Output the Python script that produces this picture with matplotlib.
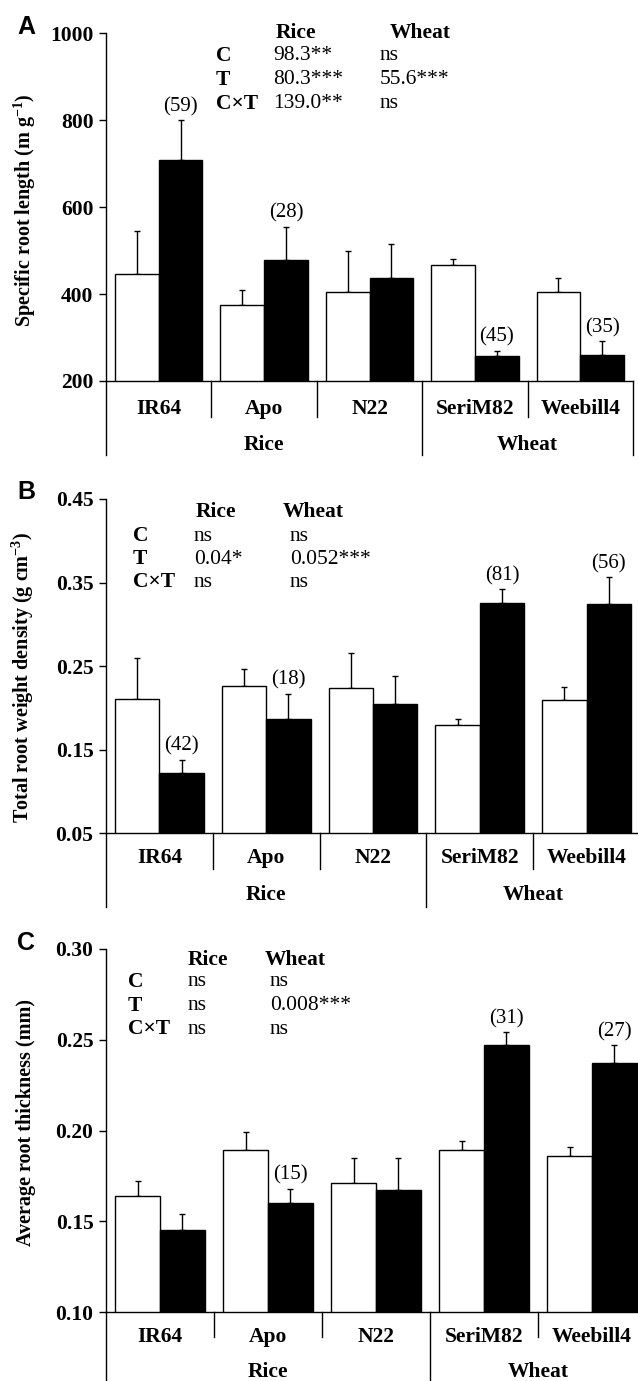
import numpy as np
import matplotlib
matplotlib.use('Agg')
import matplotlib.pyplot as plt
import matplotlib.transforms as mtransforms

plt.rcParams['font.family'] = ['Liberation Serif', 'DejaVu Serif']
plt.rcParams['mathtext.fontset'] = 'custom'
plt.rcParams['mathtext.rm'] = 'Liberation Serif:bold'
plt.rcParams['mathtext.bf'] = 'Liberation Serif:bold'

cultivars = ['IR64', 'Apo', 'N22', 'SeriM82', 'Weebill4']
groups = ['Rice', 'Wheat']

# A: specific root length
srl_ctrl = [445, 375, 405, 466, 405]
srl_ctrl_top = [545, 409, 500, 481, 436]
srl_trt = [709, 479, 436, 257, 260]
srl_trt_top = [799, 554, 515, 269, 291]
srl_n = ['(59)', '(28)', None, '(45)', '(35)']

# B: total root weight density
rwd_ctrl = [0.210, 0.226, 0.224, 0.179, 0.209]
rwd_ctrl_top = [0.259, 0.246, 0.266, 0.186, 0.225]
rwd_trt = [0.122, 0.186, 0.204, 0.325, 0.324]
rwd_trt_top = [0.138, 0.217, 0.238, 0.342, 0.356]
rwd_n = ['(42)', '(18)', None, '(81)', '(56)']

# C: average root thickness
art_ctrl = [0.164, 0.189, 0.171, 0.189, 0.186]
art_ctrl_top = [0.172, 0.199, 0.185, 0.194, 0.191]
art_trt = [0.145, 0.160, 0.167, 0.247, 0.237]
art_trt_top = [0.154, 0.168, 0.185, 0.254, 0.247]
art_n = [None, '(15)', None, '(31)', '(27)']

W, H = 638, 1381
fig = plt.figure(figsize=(W / 100, H / 100), dpi=100)

FS_TICK = 15.5
FS_CAT = 15.5
FS_TAB = 15.5
FS_N = 15


def px_axes(left, top, right, bottom):
    return [left / W, 1 - bottom / H, (right - left) / W, (bottom - top) / H]


def panel(rect, ctrl, ctrl_top, trt, trt_top, nlab, ylim, yticks, yfmt, ylabel,
          letter, letter_y, table, sep_minor, sep_group, cat_y, grp_y, ylab_x, ylab_y,
          right_sep=False):
    ax = fig.add_axes(px_axes(*rect))
    hpx = rect[3] - rect[1]
    x = np.arange(len(cultivars))
    bw = 0.415
    ctrl = np.array(ctrl); trt = np.array(trt)
    ax.bar(x - bw / 2, ctrl, bw, color='white', edgecolor='black', linewidth=1.0, zorder=2)
    ax.bar(x + bw / 2, trt, bw, color='black', edgecolor='black', linewidth=1.0, zorder=2)
    ax.errorbar(x - bw / 2, ctrl, yerr=[np.zeros(5), np.array(ctrl_top) - ctrl], fmt='none',
                ecolor='black', elinewidth=1.0, capsize=2.5, capthick=1.0, zorder=1)
    ax.errorbar(x + bw / 2, trt, yerr=[np.zeros(5), np.array(trt_top) - trt], fmt='none',
                ecolor='black', elinewidth=1.0, capsize=2.5, capthick=1.0, zorder=1)
    for i, t in enumerate(nlab):
        if t:
            ax.annotate(t, (x[i] + bw / 2, trt_top[i]), xytext=(0, 3), textcoords='offset points',
                        ha='center', va='bottom', fontsize=FS_N)
    ax.set_xlim(-0.5, 4.5)
    ax.set_ylim(*ylim)
    ax.set_yticks(yticks)
    ax.set_yticklabels([yfmt.format(v) for v in yticks], fontsize=FS_TICK, fontweight='bold')
    ax.tick_params(axis='y', direction='out', length=5, width=1.0, pad=4)
    ax.set_xticks([])
    for s in ['top', 'right']:
        ax.spines[s].set_visible(False)
    ax.spines['left'].set_linewidth(1.0)
    ax.spines['bottom'].set_linewidth(1.0)
    ax.spines['left'].set_zorder(3)
    ax.spines['bottom'].set_zorder(3)
    ax.set_ylabel(ylabel, fontsize=14.5, fontweight='bold')
    ax.yaxis.set_label_coords((ylab_x - rect[0]) / (rect[2] - rect[0]),
                              (rect[3] - ylab_y) / hpx)

    tr = mtransforms.blended_transform_factory(ax.transData, ax.transAxes)
    for xs in [0.5, 1.5, 3.5]:
        ax.plot([xs, xs], [0, -sep_minor / hpx], transform=tr, color='black', lw=1.0, clip_on=False)
    gx = [-0.5, 2.5] + ([4.5] if right_sep else [])
    for xs in gx:
        ax.plot([xs, xs], [0, -sep_group / hpx], transform=tr, color='black', lw=1.0, clip_on=False)
    for i, c in enumerate(cultivars):
        ax.text(x[i], -cat_y / hpx, c, transform=tr, ha='center', va='center',
                fontsize=FS_CAT, fontweight='bold')
    ax.text(1.0, -grp_y / hpx, groups[0], transform=tr, ha='center', va='center',
            fontsize=FS_CAT, fontweight='bold')
    ax.text(3.5, -grp_y / hpx, groups[1], transform=tr, ha='center', va='center',
            fontsize=FS_CAT, fontweight='bold')

    fig.text(17 / W, 1 - letter_y / H, letter, family='Liberation Sans', fontweight='bold',
             fontsize=18, ha='left', va='center')

    # ANOVA table
    (hx_r, hx_w, hy), (lx, vx_r, vx_w), rows_y, rows = table
    fig.text(hx_r / W, 1 - hy / H, 'Rice', ha='center', va='center', fontsize=FS_TAB, fontweight='bold')
    fig.text(hx_w / W, 1 - hy / H, 'Wheat', ha='center', va='center', fontsize=FS_TAB, fontweight='bold')
    for ry, (lab, vr, vw) in zip(rows_y, rows):
        fig.text(lx / W, 1 - ry / H, lab, ha='left', va='center', fontsize=FS_TAB, fontweight='bold')
        fig.text(vx_r / W, 1 - ry / H, vr, ha='left', va='center', fontsize=FS_TAB)
        fig.text(vx_w / W, 1 - ry / H, vw, ha='left', va='center', fontsize=FS_TAB)
    return ax


panel((106, 33, 633, 381), srl_ctrl, srl_ctrl_top, srl_trt, srl_trt_top, srl_n,
      (200, 1000), [200, 400, 600, 800, 1000], '{:.0f}',
      r'Specific root length (m g$^{\mathbf{-1}}$)', 'A', 27,
      ((296, 420, 33), (216, 273, 380), [56, 80, 104],
       [('C', '98.3**', 'ns'), ('T', '80.3***', '55.6***'), ('C×T', '139.0**', 'ns')]),
      36, 74, 28, 64, 38, 210, right_sep=True)

panel((106, 499, 640, 833), rwd_ctrl, rwd_ctrl_top, rwd_trt, rwd_trt_top, rwd_n,
      (0.05, 0.45), [0.05, 0.15, 0.25, 0.35, 0.45], '{:.2f}',
      r'Total root weight density (g cm$^{\mathbf{-3}}$)', 'B', 492,
      ((216, 313, 512), (133, 194, 290), [536, 559, 582],
       [('C', 'ns', 'ns'), ('T', '0.04*', '0.052***'), ('C×T', 'ns', 'ns')]),
      36, 74, 25, 62, 36, 677)

panel((106, 949, 646, 1312), art_ctrl, art_ctrl_top, art_trt, art_trt_top, art_n,
      (0.10, 0.30), [0.10, 0.15, 0.20, 0.25, 0.30], '{:.2f}',
      'Average root thickness (mm)', 'C', 943,
      ((208, 295, 960), (128, 188, 270), [982, 1006, 1029],
       [('C', 'ns', 'ns'), ('T', 'ns', '0.008***'), ('C×T', 'ns', 'ns')]),
      25, 80, 25, 60, 36, 1122)

fig.savefig('out.png', dpi=100)
